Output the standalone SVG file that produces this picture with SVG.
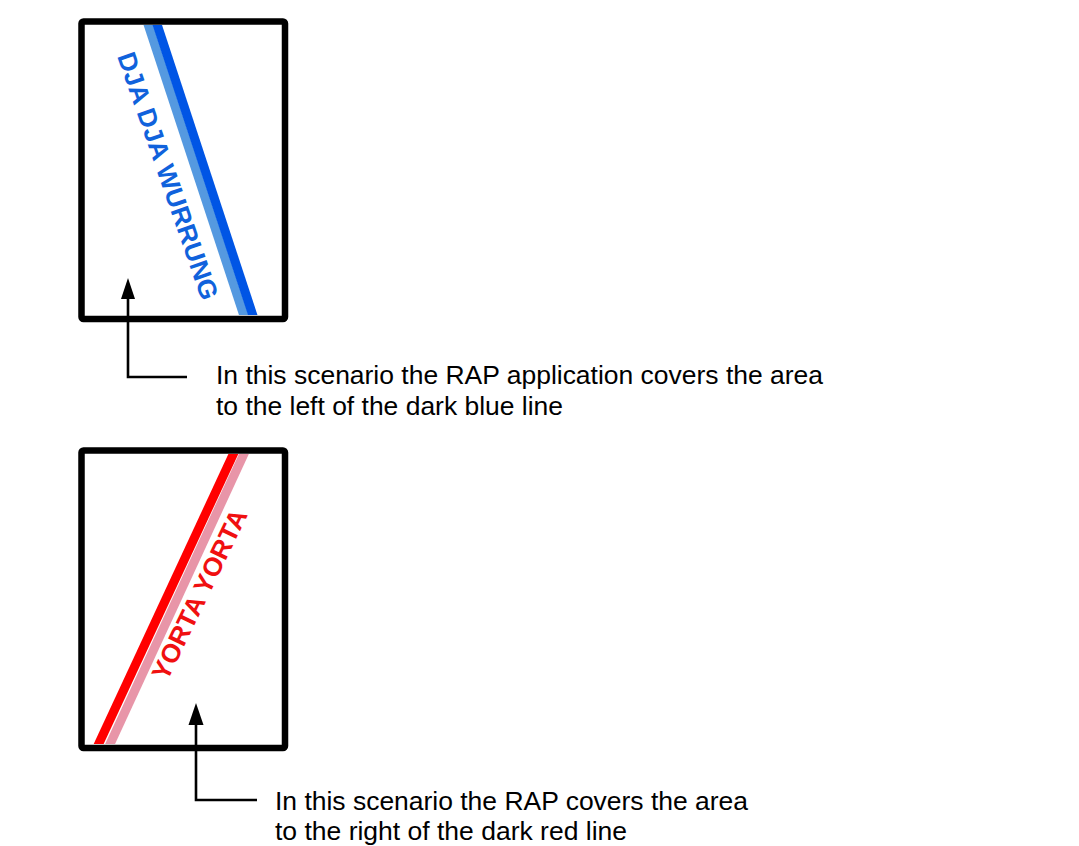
<svg xmlns="http://www.w3.org/2000/svg" width="1079" height="846" viewBox="0 0 1079 846">
  <defs>
    <style>
      .box { fill: #ffffff; stroke: #000000; stroke-width: 6.5; }
      .band { fill: none; stroke-width: 9; stroke-linecap: butt; }
      .lbl { font-family: "Liberation Sans", Arial, sans-serif; font-weight: bold; font-size: 26px; }
      .cap { font-family: "Liberation Sans", Arial, sans-serif; font-size: 25px; fill: #000000; }
      .conn { fill: none; stroke: #000000; stroke-width: 2.6; }
      .head { fill: #000000; stroke: none; }
    </style>
    <clipPath id="clip1"><rect x="85" y="25" width="197" height="290"/></clipPath>
    <clipPath id="clip2"><rect x="85" y="454" width="197" height="290"/></clipPath>
  </defs>
  <rect width="1079" height="846" fill="#ffffff"/>

  <g id="node-dja-dja-wurrung">
    <rect class="box" x="81.5" y="21.5" width="203.5" height="297.5" rx="2"/>
    <g clip-path="url(#clip1)">
      <line class="band" x1="145" y1="15" x2="247" y2="325" stroke="#5599e0"/>
      <line class="band" x1="154" y1="15" x2="256" y2="325" stroke="#0055e5"/>
    </g>
    <text class="lbl" fill="#1062dc" transform="translate(117,56) rotate(70.9)" textLength="260" lengthAdjust="spacingAndGlyphs">DJA DJA WURRUNG</text>
  </g>

  <g id="node-yorta-yorta">
    <rect class="box" x="81.5" y="450.5" width="203.5" height="297.5" rx="2"/>
    <g clip-path="url(#clip2)">
      <line class="band" x1="248.5" y1="444" x2="105.5" y2="754" stroke="#e895a8"/>
      <line class="band" x1="238" y1="444" x2="94" y2="754" stroke="#ff0000"/>
    </g>
    <text class="lbl" fill="#f01010" transform="translate(167,682) rotate(-64.2)" textLength="186" lengthAdjust="spacingAndGlyphs">YORTA YORTA</text>
  </g>

  <g id="connectors">
    <polyline class="conn" points="187,377 128,377 128,296"/>
    <polygon class="head" points="128,278 121,299 135,299"/>
    <polyline class="conn" points="257,800 196,800 196,722"/>
    <polygon class="head" points="196,703 188.5,725 203.5,725"/>
  </g>

  <g id="caption-1">
    <text class="cap" x="216" y="384" textLength="607" lengthAdjust="spacingAndGlyphs">In this scenario the RAP application covers the area</text>
    <text class="cap" x="216" y="414.5" textLength="347" lengthAdjust="spacingAndGlyphs">to the left of the dark blue line</text>
  </g>
  <g id="caption-2">
    <text class="cap" x="275" y="810" textLength="473" lengthAdjust="spacingAndGlyphs">In this scenario the RAP covers the area</text>
    <text class="cap" x="275" y="840" textLength="352" lengthAdjust="spacingAndGlyphs">to the right of the dark red line</text>
  </g>
</svg>
